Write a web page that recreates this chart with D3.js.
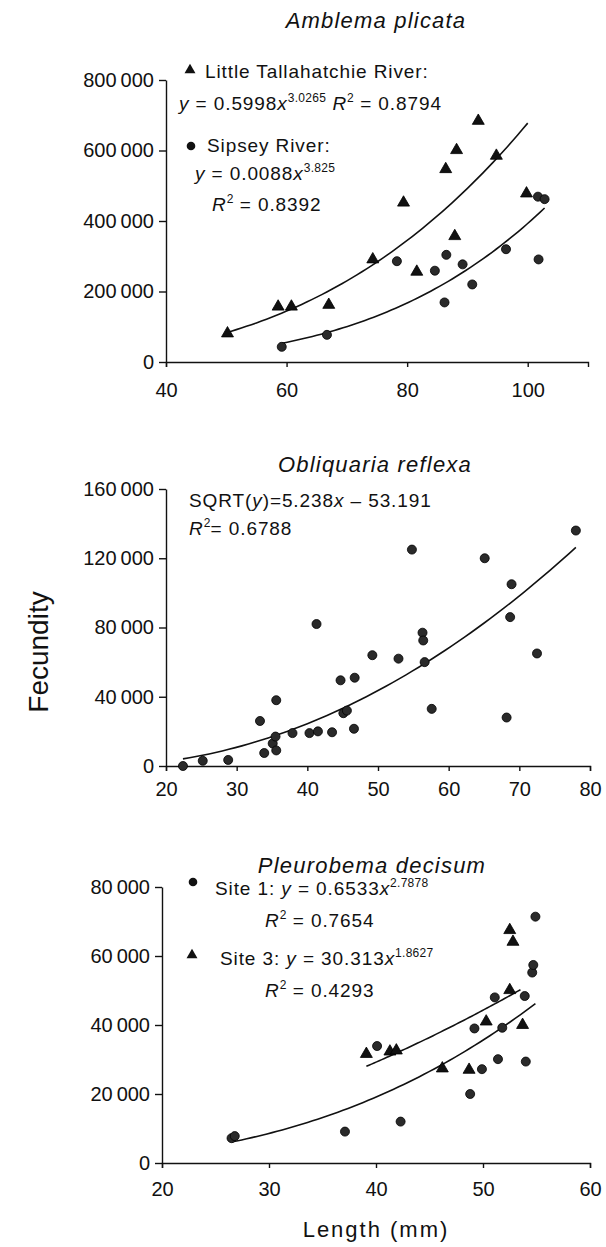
<!DOCTYPE html>
<html>
<head>
<meta charset="utf-8">
<script src="https://cdn.jsdelivr.net/npm/d3@7"></script>
<style>
  body { margin: 0; background: #fff; }
  text { font-family: "Liberation Sans", Arial, sans-serif; fill: #111; }
  .axis path, .axis line { stroke: #111; stroke-width: 1.4; }
  .axis text { font-size: 20px; }
</style>
</head>
<body>
<div id="chart"></div>
<script>
// Amblema plicata: [length mm, fecundity]
const littleTallahatchie = [
  [50.2, 81000], [58.6, 157000], [60.8, 157000], [67.0, 162000], [74.3, 291000],
  [79.4, 452000], [81.6, 256000], [86.4, 547000], [87.9, 357000], [88.2, 601000],
  [91.8, 684000], [94.8, 585000], [99.8, 478000]
];
const sipsey = [
  [59.2, 43000], [66.7, 77000], [78.3, 286000], [84.6, 259000], [86.2, 169000],
  [86.5, 304000], [89.2, 277000], [90.8, 220000], [96.4, 320000], [101.7, 469000],
  [101.8, 291000], [102.8, 462000]
];

// Obliquaria reflexa
const obliquaria = [
  [22.4, 0], [25.2, 3000], [28.8, 3500], [33.3, 26000], [33.9, 7500], [35.1, 13000],
  [35.5, 17000], [35.6, 9000], [35.6, 38000], [37.9, 19000], [40.3, 19000], [41.3, 82000],
  [41.5, 20000], [43.5, 19500], [44.7, 49500], [45.1, 30500], [45.6, 32000], [46.6, 21500],
  [46.7, 51000], [49.2, 64000], [52.9, 62000], [54.8, 125000], [56.3, 77000], [56.4, 72500],
  [56.6, 60000], [57.6, 33000], [65.1, 120000], [68.2, 28000], [68.7, 86000], [68.9, 105000],
  [72.5, 65000], [78.0, 136000]
];

// Pleurobema decisum
const site1 = [
  [26.5, 7200], [26.8, 7800], [37.1, 9100], [40.1, 33900], [42.3, 12000], [48.8, 20000],
  [49.2, 39000], [49.9, 27200], [51.1, 48000], [51.4, 30100], [51.8, 39200], [53.9, 48400],
  [54.0, 29400], [54.6, 55200], [54.7, 57400], [54.9, 71400]
];
const site3 = [
  [39.1, 31600], [41.3, 32300], [41.9, 32600], [46.2, 27400], [48.7, 27000], [50.3, 41000],
  [52.5, 50100], [52.5, 67500], [52.8, 64100], [53.7, 40000]
];

// fitted equations printed on the chart
const fits = {
  lt: { f: x => 0.5998 * Math.pow(x, 3.0265), from: 50, to: 100 },
  sipsey: { f: x => 0.0088 * Math.pow(x, 3.825), from: 59.2, to: 102.8 },
  obl: { f: x => Math.pow(5.238 * x - 53.191, 2), from: 22.4, to: 78 },
  site1: { f: x => 0.6533 * Math.pow(x, 2.7878), from: 26.5, to: 54.9 },
  site3: { f: x => 30.313 * Math.pow(x, 1.8627), from: 39.1, to: 53.5 }
};

const ticksA = { x: [40, 60, 80, 100], y: [0, 200000, 400000, 600000, 800000] };
const ticksO = { x: [20, 30, 40, 50, 60, 70, 80], y: [0, 40000, 80000, 120000, 160000] };
const ticksP = { x: [20, 30, 40, 50, 60], y: [0, 20000, 40000, 60000, 80000] };

const svg = d3.select("#chart").append("svg")
  .attr("width", 606).attr("height", 1247);

const fmt = d => d3.format(",")(d).replace(/,/g, "\u2009");

function drawPanel(p) {
  const x = d3.scaleLinear().domain(p.xDomain).range(p.xRange);
  const y = d3.scaleLinear().domain(p.yDomain).range(p.yRange);
  const g = svg.append("g");

  g.append("g").attr("class", "axis")
    .attr("transform", `translate(0,${p.yRange[0]})`)
    .call(d3.axisBottom(x).tickValues(p.ticks.x).tickSize(5).tickSizeOuter(5)
      .tickPadding(p.xPad).tickFormat(d3.format("d")));

  g.append("g").attr("class", "axis")
    .attr("transform", `translate(${p.xRange[0]},0)`)
    .call(d3.axisLeft(y).tickValues(p.ticks.y).tickSize(7).tickSizeOuter(0)
      .tickPadding(5).tickFormat(fmt));

  g.selectAll(".axis .domain").attr("fill", "none");

  // fitted curves
  const line = d3.line().x(d => x(d[0])).y(d => y(d[1]));
  p.curves.forEach(c => {
    const pts = d3.range(0, 61).map(i => {
      const xv = c.from + (c.to - c.from) * i / 60;
      return [xv, c.f(xv)];
    });
    g.append("path").datum(pts).attr("d", line)
      .attr("fill", "none").attr("stroke", "#111").attr("stroke-width", 1.6);
  });

  // points
  p.series.forEach(s => {
    const sym = d3.symbol().type(s.shape === "tri" ? d3.symbolTriangle : d3.symbolCircle)
      .size(s.shape === "tri" ? 62 : 64);
    g.selectAll(null).data(s.data).join("path")
      .attr("transform", d => `translate(${x(d[0])},${y(d[1])})`)
      .attr("d", sym)
      .attr("fill", s.shape === "tri" ? "#111" : "#2a2a2a")
      .attr("stroke", "#000").attr("stroke-width", 0.8);
  });

  g.append("text").attr("x", p.titleX).attr("y", p.titleY)
    .attr("text-anchor", "middle").style("font-size", "22px")
    .style("font-style", "italic").style("letter-spacing", "1.2px")
    .text(p.title);
}

// legend text with italic and superscript parts: [text, style] pairs
function label(xp, yp, parts) {
  const t = svg.append("text").attr("x", xp).attr("y", yp)
    .style("font-size", "19px").style("letter-spacing", "0.9px");
  parts.forEach(([s, k]) => {
    const ts = t.append("tspan").text(s);
    if (k === "i") ts.style("font-style", "italic");
    if (k === "sup") ts.style("font-size", "12px").attr("dy", -8).style("letter-spacing", "0.3px");
    if (k === "after") ts.attr("dy", 8);
  });
}

function marker(xp, yp, shape) {
  svg.append("path")
    .attr("transform", `translate(${xp},${yp})`)
    .attr("d", d3.symbol().type(shape === "tri" ? d3.symbolTriangle : d3.symbolCircle)
      .size(shape === "tri" ? 52 : 58))
    .attr("fill", "#111");
}

drawPanel({
  title: "Amblema plicata", titleX: 376, titleY: 28,
  xDomain: [40, 110], xRange: [166, 588],
  yDomain: [0, 800000], yRange: [362, 80],
  ticks: ticksA, xPad: 16,
  curves: [fits.lt, fits.sipsey],
  series: [{ data: littleTallahatchie, shape: "tri" }, { data: sipsey, shape: "circle" }]
});

drawPanel({
  title: "Obliquaria reflexa", titleX: 375, titleY: 472,
  xDomain: [20, 80], xRange: [166, 590],
  yDomain: [0, 160000], yRange: [766, 489],
  ticks: ticksO, xPad: 11,
  curves: [fits.obl],
  series: [{ data: obliquaria, shape: "circle" }]
});

drawPanel({
  title: "Pleurobema decisum", titleX: 372, titleY: 873,
  xDomain: [20, 60], xRange: [162, 590],
  yDomain: [0, 80000], yRange: [1163, 887],
  ticks: ticksP, xPad: 14,
  curves: [fits.site1, fits.site3],
  series: [{ data: site1, shape: "circle" }, { data: site3, shape: "tri" }]
});

// legends
marker(190, 70, "tri");
label(205, 78, [["Little Tallahatchie River:"]]);
label(179, 110, [["y", "i"], [" = 0.5998"], ["x", "i"], ["3.0265", "sup"], [" ", "after"], ["R", "i"], ["2", "sup"], [" = 0.8794", "after"]]);
marker(191, 146, "circle");
label(207, 152, [["Sipsey River:"]]);
label(195, 180, [["y", "i"], [" = 0.0088"], ["x", "i"], ["3.825", "sup"]]);
label(212, 211, [["R", "i"], ["2", "sup"], [" = 0.8392", "after"]]);

label(189, 507, [["SQRT("], ["y", "i"], [")=5.238"], ["x", "i"], [" \u2013 53.191"]]);
label(189, 535, [["R", "i"], ["2", "sup"], ["= 0.6788", "after"]]);

marker(193, 882, "circle");
label(215, 895, [["Site 1: "], ["y", "i"], [" = 0.6533"], ["x", "i"], ["2.7878", "sup"]]);
label(265, 927, [["R", "i"], ["2", "sup"], [" = 0.7654", "after"]]);
marker(192, 955, "tri");
label(220, 965, [["Site 3: "], ["y", "i"], [" = 30.313"], ["x", "i"], ["1.8627", "sup"]]);
label(265, 997, [["R", "i"], ["2", "sup"], [" = 0.4293", "after"]]);

// shared axis titles
svg.append("text").attr("transform", "translate(48,652) rotate(-90)")
  .attr("text-anchor", "middle").style("font-size", "28px").text("Fecundity");
svg.append("text").attr("x", 376).attr("y", 1237)
  .attr("text-anchor", "middle").style("font-size", "22px")
  .style("letter-spacing", "2px").text("Length (mm)");
</script>
</body>
</html>
